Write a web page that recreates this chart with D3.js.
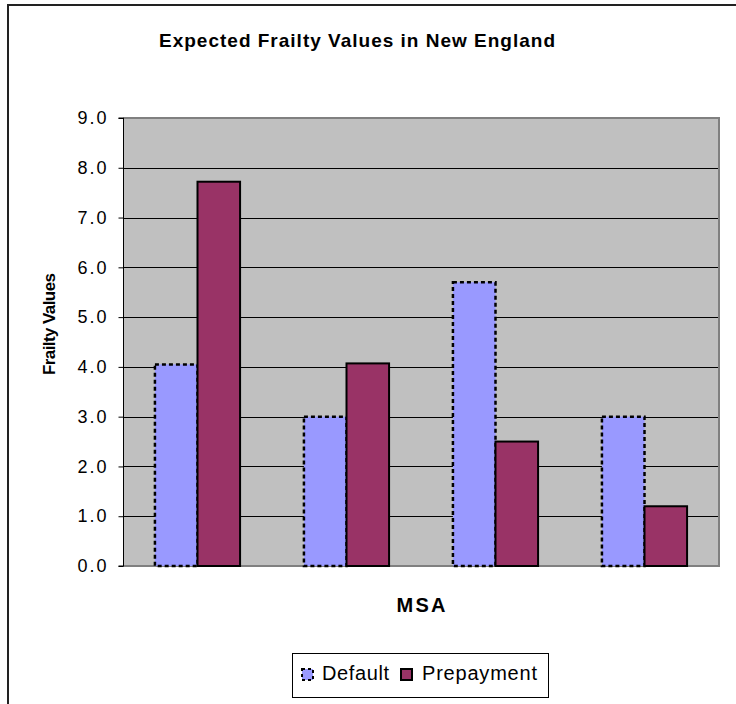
<!DOCTYPE html>
<html>
<head>
<meta charset="utf-8">
<script src="https://cdn.jsdelivr.net/npm/d3@7"></script>
<style>
  body { margin: 0; background: #fff; }
  svg text { font-family: Arial, "Liberation Sans", sans-serif; }
</style>
</head>
<body>
<svg id="chart" width="736" height="704"></svg>
<script>
// Chart data
const categories = ['A', 'B', 'C', 'D'];
const seriesNames = ['Default', 'Prepayment'];
const defaultValues = [4.05, 3.0, 5.7, 3.0];
const prepaymentValues = [7.72, 4.07, 2.5, 1.2];
const yTicks = [0, 1, 2, 3, 4, 5, 6, 7, 8, 9];

const svg = d3.select('#chart');

// Outer chart border (runs off the right and bottom edges)
svg.append('rect')
    .attr('x', 8).attr('y', 5)
    .attr('width', 760).attr('height', 760)
    .attr('fill', '#fff')
    .attr('stroke', '#222')
    .attr('stroke-width', 2);

// Plot area
const plotLeft = 123, plotRight = 719, plotTop = 118, plotBottom = 566;

const x = d3.scaleBand()
    .domain(categories)
    .range([plotLeft, plotRight]);

const inner = d3.scaleBand()
    .domain(seriesNames)
    .range([0, x.bandwidth()])
    .paddingInner(0)
    .paddingOuter(0.75);

const y = d3.scaleLinear()
    .domain([0, 9])
    .range([plotBottom, plotTop]);

svg.append('rect')
    .attr('x', plotLeft).attr('y', plotTop)
    .attr('width', plotRight - plotLeft).attr('height', plotBottom - plotTop)
    .attr('fill', '#c0c0c0');

// Gridlines
svg.append('g')
    .selectAll('line')
    .data(yTicks.filter(d => d > 0 && d < 9))
    .enter().append('line')
    .attr('x1', plotLeft).attr('x2', plotRight)
    .attr('y1', d => Math.round(y(d)) + 0.5)
    .attr('y2', d => Math.round(y(d)) + 0.5)
    .attr('stroke', '#000')
    .attr('stroke-width', 1);

// Plot border (grey top, right, bottom)
svg.append('path')
    .attr('d', `M${plotLeft},${plotTop} H${plotRight} V${plotBottom} H${plotLeft}`)
    .attr('fill', 'none')
    .attr('stroke', '#808080')
    .attr('stroke-width', 2);

// Bars
const rows = categories.map((c, i) => ({
    cat: c,
    values: [
        { name: 'Default', value: defaultValues[i] },
        { name: 'Prepayment', value: prepaymentValues[i] }
    ]
}));

const group = svg.append('g')
    .selectAll('g')
    .data(rows)
    .enter().append('g')
    .attr('transform', d => `translate(${x(d.cat)},0)`);

group.selectAll('rect')
    .data(d => d.values)
    .enter().append('rect')
    .attr('x', d => inner(d.name))
    .attr('y', d => y(d.value))
    .attr('width', inner.bandwidth())
    .attr('height', d => y(0) - y(d.value))
    .attr('fill', d => d.name === 'Default' ? '#9999ff' : '#993366')
    .attr('stroke', '#000')
    .attr('stroke-width', d => d.name === 'Default' ? 2.5 : 2)
    .attr('stroke-dasharray', d => d.name === 'Default' ? '4,3' : null);

// Y axis
const yAxis = d3.axisLeft(y)
    .tickValues(yTicks)
    .tickFormat(d3.format('.1f'))
    .tickSize(5)
    .tickPadding(12);

const ya = svg.append('g')
    .attr('transform', `translate(${plotLeft + 0.5},0)`)
    .call(yAxis);
ya.select('.domain').attr('stroke', '#000').attr('d', `M-5,${plotTop}H0V${plotBottom}H-5`);
ya.selectAll('.tick line').attr('stroke', '#000');
ya.selectAll('.tick text')
    .attr('font-size', 18)
    .attr('font-family', 'Arial, "Liberation Sans", sans-serif')
    .attr('textLength', 29)
    .attr('lengthAdjust', 'spacing')
    .attr('fill', '#000');

// Titles
svg.append('text')
    .attr('x', 357).attr('y', 47)
    .attr('text-anchor', 'middle')
    .attr('font-size', 19)
    .attr('font-weight', 'bold')
    .attr('textLength', 396)
    .attr('lengthAdjust', 'spacing')
    .text('Expected Frailty Values in New England');

svg.append('text')
    .attr('transform', 'translate(55,324) rotate(-90)')
    .attr('text-anchor', 'middle')
    .attr('font-size', 17)
    .attr('font-weight', 'bold')
    .attr('textLength', 102)
    .attr('lengthAdjust', 'spacing')
    .text('Frailty Values');

svg.append('text')
    .attr('x', 421).attr('y', 612)
    .attr('text-anchor', 'middle')
    .attr('font-size', 20)
    .attr('font-weight', 'bold')
    .attr('textLength', 49)
    .attr('lengthAdjust', 'spacing')
    .text('MSA');

// Legend
const legend = svg.append('g');
legend.append('rect')
    .attr('x', 292.5).attr('y', 653.5)
    .attr('width', 256).attr('height', 44)
    .attr('fill', '#fff')
    .attr('stroke', '#000')
    .attr('stroke-width', 1);

const legendItems = [
    { name: seriesNames[0], sx: 302, tx: 322, tw: 67, fill: '#9999ff', dash: '3,3' },
    { name: seriesNames[1], sx: 401, tx: 422, tw: 115, fill: '#993366', dash: null }
];

const li = legend.selectAll('g')
    .data(legendItems)
    .enter().append('g');

li.append('rect')
    .attr('x', d => d.sx).attr('y', 669)
    .attr('width', 11).attr('height', 11)
    .attr('fill', d => d.fill)
    .attr('stroke', '#000')
    .attr('stroke-width', 2)
    .attr('stroke-dasharray', d => d.dash);

li.append('text')
    .attr('x', d => d.tx).attr('y', 680)
    .attr('font-size', 20)
    .attr('textLength', d => d.tw)
    .attr('lengthAdjust', 'spacing')
    .text(d => d.name);
</script>
</body>
</html>
